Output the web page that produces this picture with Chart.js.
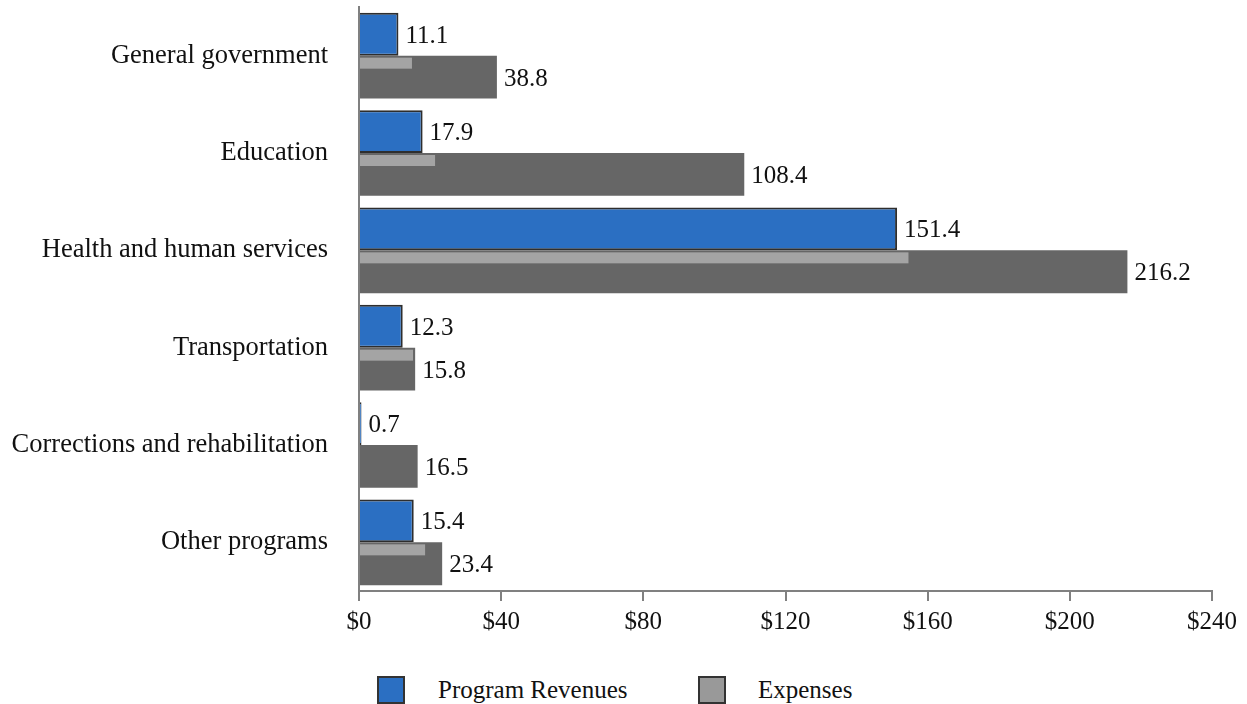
<!DOCTYPE html>
<html>
<head>
<meta charset="utf-8">
<script src="https://cdn.jsdelivr.net/npm/chart.js@4.4.1/dist/chart.umd.min.js"></script>
<style>
  body { margin: 0; background: #fff; font-family: "Liberation Serif", "Times New Roman", serif; }
  #wrap { position: relative; width: 1247px; height: 704px; }
  #box { position: absolute; left: 0; top: 0; width: 1247px; height: 643px; }
  .leg { position: absolute; top: 676px; height: 28px; font-size: 25px; line-height: 28px; color: #111; }
  .sw { position: absolute; top: 676px; width: 24px; height: 24px; border: 2px solid #333; }
</style>
</head>
<body>
<div id="wrap">
  <div id="box"><canvas id="myChart"></canvas></div>
  <div class="sw" style="left:377px;background:#2b6fc2;"></div>
  <div class="leg" style="left:438px;">Program Revenues</div>
  <div class="sw" style="left:698px;background:#999;"></div>
  <div class="leg" style="left:758px;">Expenses</div>
</div>
<script>
/*----------------------------data------------------------------------*/
var categories = ['General government', 'Education', 'Health and human services',
  'Transportation', 'Corrections and rehabilitation', 'Other programs'];
var revenues = [11.1, 17.9, 151.4, 12.3, 0.7, 15.4];
var expenses = [38.8, 108.4, 216.2, 15.8, 16.5, 23.4];
// light band on top of the expense bars
var highlight = [14.9, 21.4, 154.6, 15.2, 0, 18.6];
var xTicks = [0, 40, 80, 120, 160, 200, 240];

var serif = '"Liberation Serif", "Times New Roman", serif';

/*----------------------------plugins------------------------------------*/
var stripePlugin = {
  id: 'stripe',
  afterDatasetDraw: function (chart, args) {
    if (args.index !== 1) return;
    var ctx = chart.ctx;
    var x = chart.scales.x;
    var meta = chart.getDatasetMeta(1);
    ctx.save();
    ctx.fillStyle = '#a4a4a4';
    meta.data.forEach(function (bar, i) {
      if (!highlight[i]) return;
      var top = bar.y - bar.height / 2;
      var x0 = x.getPixelForValue(0) + 1;
      var x1 = x.getPixelForValue(highlight[i]);
      ctx.fillRect(x0, top + 2, x1 - x0, 11);
    });
    ctx.restore();
  }
};

var labelPlugin = {
  id: 'valueLabels',
  afterDatasetsDraw: function (chart) {
    var ctx = chart.ctx;
    ctx.save();
    ctx.font = '25px ' + serif;
    ctx.fillStyle = '#111';
    ctx.textBaseline = 'middle';
    ctx.textAlign = 'left';
    [0, 1].forEach(function (d) {
      var meta = chart.getDatasetMeta(d);
      meta.data.forEach(function (bar, i) {
        var v = chart.data.datasets[d].data[i];
        ctx.fillText(v.toFixed(1), bar.x + 7, bar.y + 2);
      });
    });
    ctx.restore();
  }
};

/*----------------------------chart------------------------------------*/
new Chart('myChart', {
  type: 'bar',
  data: {
    labels: categories,
    datasets: [{
      label: 'Program Revenues',
      data: revenues,
      backgroundColor: '#2b6fc2',
      borderColor: '#2e2e2e',
      borderWidth: 2,
      borderSkipped: 'left',
      categoryPercentage: 0.88,
      barPercentage: 1.0
    },
    {
      label: 'Expenses',
      data: expenses,
      backgroundColor: '#666666',
      borderWidth: 0,
      categoryPercentage: 0.88,
      barPercentage: 1.0
    }]
  },
  options: {
    indexAxis: 'y',
    responsive: true,
    maintainAspectRatio: false,
    animation: false,
    layout: { padding: { top: 7, right: 35, left: 0, bottom: 0 } },
    plugins: {
      legend: { display: false },
      tooltip: { enabled: false }
    },
    scales: {
      x: {
        min: 0,
        max: 240,
        afterBuildTicks: function (s) { s.ticks = xTicks.map(function (v) { return { value: v }; }); },
        border: { color: '#808080', width: 2 },
        grid: { drawOnChartArea: false, color: '#808080', lineWidth: 2, tickLength: 10 },
        ticks: {
          color: '#111',
          padding: 6,
          maxRotation: 0,
          font: { family: serif, size: 25 },
          callback: function (v) { return '$' + v; }
        }
      },
      y: {
        afterFit: function (s) {
          s.width = 359;
          s.paddingTop = 0;
          s.paddingBottom = 0;
        },
        border: { color: '#808080', width: 2 },
        grid: { display: false, drawTicks: false },
        ticks: {
          color: '#111',
          padding: 31,
          font: { family: serif, size: 26.5 }
        }
      }
    }
  },
  plugins: [stripePlugin, labelPlugin]
});
</script>
</body>
</html>
